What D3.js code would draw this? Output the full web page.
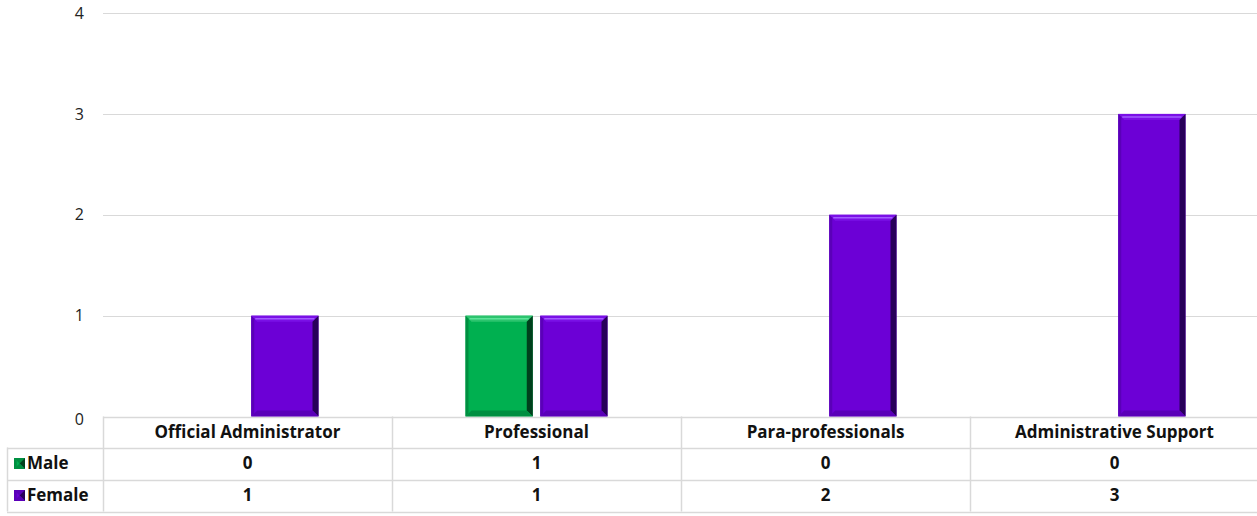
<!DOCTYPE html>
<html>
<head>
<meta charset="utf-8">
<script src="https://cdn.jsdelivr.net/npm/d3@7"></script>
<style>
	body { margin: 0; background: #fff; }
	svg { display: block; font-family: 'Open Sans', sans-serif; }
</style>
</head>
<body>
<svg id="chart" width="1257" height="516"></svg>
<script>
const categories = ['Official Administrator', 'Professional', 'Para-professionals', 'Administrative Support'];
const seriesNames = ['Male', 'Female'];
const maleValues = [0, 1, 0, 0];
const femaleValues = [1, 1, 2, 3];
const yTicks = [0, 1, 2, 3, 4];

const seriesColors = {
	Male: { base: '#00b050', light: '#2cc46e', line: '#5ee39a', dark: '#00401d', mid: '#008f41' },
	Female: { base: '#6c00d6', light: '#7a10e6', line: '#a25cff', dark: '#28005a', mid: '#5a00b8' }
};

const seriesValues = { Male: maleValues, Female: femaleValues };

const plot = { left: 103, right: 1259, top: 13, bottom: 416.5 };
const tableLeft = 7;
const rowHeights = [31, 32, 32];
const BEVEL = 6;
const FONT_SIZE = 17;

const svg = d3.select('#chart');

const xScale = d3.scaleBand(categories, [plot.left, plot.right]);
const seriesScale = d3
	.scaleBand(seriesNames, [73.5, 215.5])
	.paddingInner(0.1);
const yScale = d3.scaleLinear([0, 4], [plot.bottom, plot.top]);

/** GRID + Y AXIS ***********************************************************/
svg
	.append('g')
	.selectAll('line')
	.data(yTicks.filter((d) => d > 0))
	.enter()
	.append('line')
	.attr('x1', plot.left)
	.attr('x2', 1257)
	.attr('y1', (d) => Math.round(yScale(d)) + 0.5)
	.attr('y2', (d) => Math.round(yScale(d)) + 0.5)
	.attr('stroke', '#d9d9d9')
	.attr('stroke-width', 1);

const leftAxis = d3
	.axisLeft(yScale)
	.tickValues(yTicks)
	.tickFormat(d3.format('d'))
	.tickSize(0)
	.tickPadding(0);
svg
	.append('g')
	.attr('transform', 'translate(84, 0)')
	.call(leftAxis)
	.call((g) => g.select('.domain').remove())
	.selectAll('text')
	.attr('font-family', "'Open Sans', sans-serif")
	.attr('font-size', 16)
	.attr('fill', '#222')
	.attr('dy', (d) => (d === 0 ? '0.5em' : '0.32em'));

/** BARS ********************************************************************/
function bevelBar(g, x, y, w, h, c) {
	const b = Math.min(BEVEL, h / 2);
	g.append('rect').attr('x', x).attr('y', y).attr('width', w).attr('height', h).attr('fill', c.base);
	// top highlight
	g.append('polygon')
		.attr('points', [[x, y], [x + w, y], [x + w - b, y + b], [x + b, y + b]].join(' '))
		.attr('fill', c.light);
	if (h > 20) {
		g.append('line')
			.attr('x1', x + b / 2 + 1)
			.attr('x2', x + w - b / 2 - 1)
			.attr('y1', y + b / 2)
			.attr('y2', y + b / 2)
			.attr('stroke', c.line)
			.attr('stroke-width', 1.5);
	}
	// left
	g.append('polygon')
		.attr('points', [[x, y], [x + b / 2, y + b / 2], [x + b / 2, y + h - b / 2], [x, y + h]].join(' '))
		.attr('fill', c.mid);
	// right shadow
	g.append('polygon')
		.attr('points', [[x + w, y], [x + w, y + h], [x + w - b, y + h - b], [x + w - b, y + b]].join(' '))
		.attr('fill', c.dark);
	// bottom shadow
	g.append('polygon')
		.attr('points', [[x, y + h], [x + w, y + h], [x + w - b, y + h - b], [x + b, y + h - b]].join(' '))
		.attr('fill', c.mid);
}

const barsG = svg.append('g');
categories.forEach((cat, i) => {
	seriesNames.forEach((s) => {
		const v = seriesValues[s][i];
		if (!v) return;
		const x = xScale(cat) + seriesScale(s);
		const y = yScale(v);
		bevelBar(barsG, x, y, seriesScale.bandwidth(), plot.bottom - y, seriesColors[s]);
	});
});

/** DATA TABLE **************************************************************/
const tableG = svg.append('g');
const rowTops = [plot.bottom];
rowHeights.forEach((h, i) => rowTops.push(rowTops[i] + h));
const lineColor = '#d9d9d9';

// horizontal lines
rowTops.forEach((y, i) => {
	tableG
		.append('line')
		.attr('x1', i === 0 ? plot.left : tableLeft)
		.attr('x2', 1257)
		.attr('y1', Math.round(y) + 0.5)
		.attr('y2', Math.round(y) + 0.5)
		.attr('stroke', lineColor)
		.attr('stroke-width', 1.5);
});

// vertical lines
tableG
	.append('line')
	.attr('x1', tableLeft + 0.5)
	.attr('x2', tableLeft + 0.5)
	.attr('y1', rowTops[1])
	.attr('y2', rowTops[3])
	.attr('stroke', lineColor)
	.attr('stroke-width', 1.5);

categories.forEach((cat) => {
	const x = Math.round(xScale(cat)) + 0.5;
	tableG
		.append('line')
		.attr('x1', x)
		.attr('x2', x)
		.attr('y1', rowTops[0])
		.attr('y2', rowTops[3])
		.attr('stroke', lineColor)
		.attr('stroke-width', 1.5);
});

// header
tableG
	.selectAll('.head')
	.data(categories)
	.enter()
	.append('text')
	.attr('x', (d) => xScale(d) + xScale.bandwidth() / 2)
	.attr('y', rowTops[0] + rowHeights[0] / 2)
	.attr('dy', '0.35em')
	.attr('text-anchor', 'middle')
	.attr('font-size', FONT_SIZE)
	.attr('font-weight', 'bold')
	.attr('fill', '#111')
	.text((d) => d);

// series rows
seriesNames.forEach((s, r) => {
	const cy = rowTops[r + 1] + rowHeights[r + 1] / 2;
	bevelBar(tableG, 14, cy - 5.5, 11, 11, { ...seriesColors[s], light: seriesColors[s].mid });
	tableG
		.append('text')
		.attr('x', 27)
		.attr('y', cy)
		.attr('dy', '0.35em')
		.attr('font-size', FONT_SIZE)
		.attr('font-weight', 'bold')
		.attr('fill', '#111')
		.text(s);

	tableG
		.selectAll(`.val-${s}`)
		.data(seriesValues[s])
		.enter()
		.append('text')
		.attr('x', (d, i) => xScale(categories[i]) + xScale.bandwidth() / 2)
		.attr('y', cy)
		.attr('dy', '0.35em')
		.attr('text-anchor', 'middle')
		.attr('font-size', FONT_SIZE)
		.attr('font-weight', 'bold')
		.attr('fill', '#111')
		.text((d) => d);
});
</script>
</body>
</html>
